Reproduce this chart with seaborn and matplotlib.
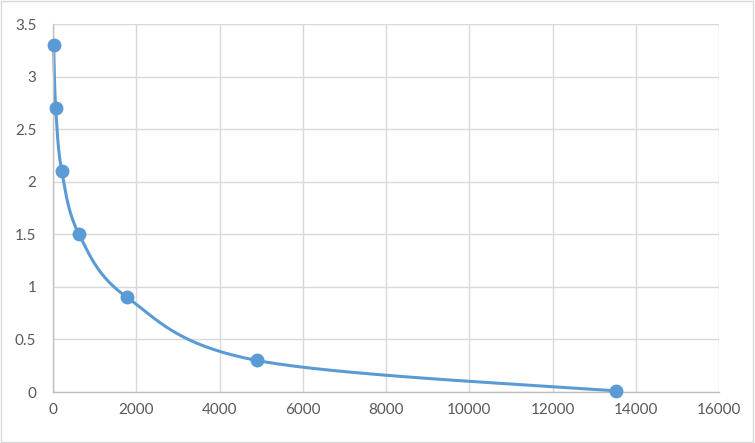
import numpy as np
import pandas as pd
import matplotlib
matplotlib.use("Agg")
import matplotlib.pyplot as plt
import seaborn as sns

# data
conc = [15, 65, 210, 625, 1780, 4900, 13530]
od = [3.3, 2.7, 2.1, 1.5, 0.9, 0.3, 0.01]

x_ticks = [0, 2000, 4000, 6000, 8000, 10000, 12000, 14000, 16000]
y_ticks = [0, 0.5, 1, 1.5, 2, 2.5, 3, 3.5]

blue = "#5B9BD5"

sns.set_style("white")
plt.rcParams["font.family"] = ["Lato", "DejaVu Sans"]

fig = plt.figure(figsize=(7.55, 4.43), dpi=100)
ax = fig.add_axes([53 / 755, 1 - 392 / 443, 666 / 755, 368 / 443])

# smoothed line like Excel (cardinal bezier in screen space)
sx = 666 / 16000
sy = 368 / 3.5
P = np.column_stack([np.array(conc) * sx, np.array(od) * sy])
pts = np.vstack([P[0], P, P[-1]])
curve = []
t = np.linspace(0, 1, 40)[:, None]
for i in range(1, len(pts) - 2):
    p0, p1, p2, p3 = pts[i - 1], pts[i], pts[i + 1], pts[i + 2]
    c1 = p1 + (p2 - p0) / 6
    c2 = p2 - (p3 - p1) / 6
    seg = ((1 - t) ** 3) * p1 + 3 * ((1 - t) ** 2) * t * c1 + 3 * (1 - t) * t ** 2 * c2 + t ** 3 * p2
    curve.append(seg)
curve = np.vstack(curve)
line = pd.DataFrame({"x": curve[:, 0] / sx, "y": curve[:, 1] / sy})

sns.lineplot(data=line, x="x", y="y", sort=False, color=blue, lw=2.2, ax=ax, clip_on=False)
sns.scatterplot(x=conc, y=od, color=blue, s=100, edgecolor=blue, linewidth=0, zorder=3,
                ax=ax, clip_on=False)

ax.set_xlim(0, 16000)
ax.set_ylim(0, 3.5)
ax.set_xticks(x_ticks)
ax.set_yticks(y_ticks)
ax.set_xticklabels([str(v) for v in x_ticks])
ax.set_yticklabels([f"{v:g}" for v in y_ticks])
ax.grid(True, color="#d9d9d9", lw=1)
ax.set_axisbelow(True)
ax.set_xlabel("")
ax.set_ylabel("")
for s in ["top", "right"]:
    ax.spines[s].set_visible(False)
for s in ["left", "bottom"]:
    ax.spines[s].set_color("#bfbfbf")
    ax.spines[s].set_linewidth(1)
ax.tick_params(axis="both", length=0, labelsize=11, colors="#595959", pad=8)
ax.tick_params(axis="y", pad=12)

# light border round the chart area
fig.patches.append(plt.Rectangle((0.001, 0.002), 0.997, 0.995, transform=fig.transFigure,
                                 fill=False, edgecolor="#d9d9d9", lw=1))

fig.savefig("out.png", dpi=100)
